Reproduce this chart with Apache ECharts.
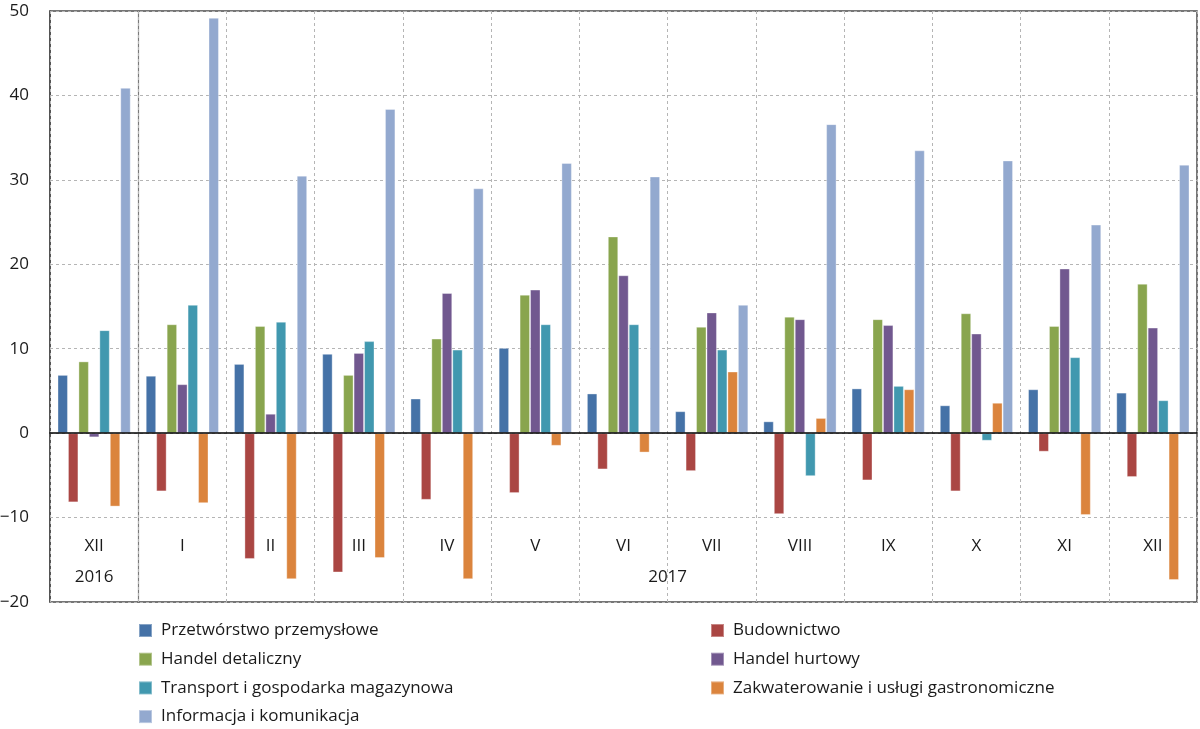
<!DOCTYPE html>
<html>
<head>
<meta charset="utf-8">
<script src="https://cdn.jsdelivr.net/npm/echarts@6/dist/echarts.min.js"></script>
<style>
  html, body { margin: 0; padding: 0; background: #fff; }
  #chart { width: 1200px; height: 729px; }
</style>
</head>
<body>
<div id="chart"></div>
<script>
// ---- data ----
const categories = ['XII', 'I', 'II', 'III', 'IV', 'V', 'VI', 'VII', 'VIII', 'IX', 'X', 'XI', 'XII'];
const yearOfCategory = ['2016', '2017', '2017', '2017', '2017', '2017', '2017', '2017', '2017', '2017', '2017', '2017', '2017'];

const seriesNames = [
  'Przetwórstwo przemysłowe',
  'Budownictwo',
  'Handel detaliczny',
  'Handel hurtowy',
  'Transport i gospodarka magazynowa',
  'Zakwaterowanie i usługi gastronomiczne',
  'Informacja i komunikacja'
];

const przetworstwo   = [6.9, 6.8, 8.2, 9.4, 4.1, 10.1, 4.7, 2.6, 1.4, 5.3, 3.3, 5.2, 4.8];
const budownictwo    = [-8.2, -6.9, -14.9, -16.5, -7.9, -7.1, -4.3, -4.5, -9.6, -5.6, -6.9, -2.2, -5.2];
const detaliczny     = [8.5, 12.9, 12.7, 6.9, 11.2, 16.4, 23.3, 12.6, 13.8, 13.5, 14.2, 12.7, 17.7];
const hurtowy        = [-0.5, 5.8, 2.3, 9.5, 16.6, 17.0, 18.7, 14.3, 13.5, 12.8, 11.8, 19.5, 12.5];
const transport      = [12.2, 15.2, 13.2, 10.9, 9.9, 12.9, 12.9, 9.9, -5.1, 5.6, -0.9, 9.0, 3.9];
const zakwaterowanie = [-8.7, -8.3, -17.3, -14.8, -17.3, -1.5, -2.3, 7.3, 1.8, 5.2, 3.6, -9.7, -17.4];
const informacja     = [40.9, 49.2, 30.5, 38.4, 29.0, 32.0, 30.4, 15.2, 36.6, 33.5, 32.3, 24.7, 31.8];

const seriesValues = [przetworstwo, budownictwo, detaliczny, hurtowy, transport, zakwaterowanie, informacja];
const seriesColors = ['#4572A7', '#AA4643', '#89A54E', '#71588F', '#4198AF', '#DB843D', '#93A9CF'];

const yMin = -20, yMax = 50, yStep = 10;

// ---- derived: year label centres and year boundaries ----
const yearCenters = [];
const yearLabelAt = {};
(function () {
  const groups = {};
  const order = [];
  yearOfCategory.forEach((y, i) => {
    if (!groups[y]) { groups[y] = []; order.push(y); }
    groups[y].push(i + 0.5);
  });
  order.forEach(y => {
    const arr = groups[y];
    const c = (arr[0] + arr[arr.length - 1]) / 2;
    yearCenters.push(c);
    yearLabelAt[c.toFixed(2)] = y;
  });
})();
const boundaryColors = [];
for (let i = 0; i <= categories.length; i++) {
  const isYearBoundary = i > 0 && i < categories.length && yearOfCategory[i] !== yearOfCategory[i - 1];
  boundaryColors.push(isYearBoundary ? '#7a7a7a' : 'rgba(0,0,0,0)');
}

const FONT = 'Open Sans';
const TXT = '#1a1a1a';

const chart = echarts.init(document.getElementById('chart'), null, { renderer: 'canvas' });

const series = seriesNames.map((name, k) => ({
  name: name,
  type: 'bar',
  xAxisIndex: 0,
  yAxisIndex: 0,
  data: seriesValues[k],
  barGap: '0%',
  barCategoryGap: '17%',
  itemStyle: { color: seriesColors[k], borderColor: 'rgba(255,255,255,0.35)', borderWidth: 1 },
  emphasis: { disabled: true },
  animation: false
}));

const legendText = { fontFamily: FONT, fontSize: 17, color: TXT, lineHeight: 17, padding: [0, 0, 0, 4] };

chart.setOption({
  animation: false,
  grid: {
    left: 50, right: 3, top: 11, bottom: 127,
    outerBoundsMode: 'none', containLabel: false,
    show: true, borderColor: '#4a4a4a', borderWidth: 1.5, backgroundColor: 'transparent'
  },
  legend: [
    {
      data: [seriesNames[0], seriesNames[2], seriesNames[4], seriesNames[6]],
      orient: 'vertical', left: 138, top: 622, padding: 0,
      itemWidth: 13, itemHeight: 13, itemGap: 11.7, icon: 'rect',
      textStyle: legendText, selectedMode: false
    },
    {
      data: [seriesNames[1], seriesNames[3], seriesNames[5]],
      orient: 'vertical', left: 710, top: 622, padding: 0,
      itemWidth: 13, itemHeight: 13, itemGap: 11.7, icon: 'rect',
      textStyle: legendText, selectedMode: false
    }
  ],
  xAxis: [
    {
      // bar axis: zero line only
      type: 'category',
      position: 'bottom',
      data: categories,
      axisLine: { show: true, onZero: true, lineStyle: { color: '#000', width: 1.5 } },
      axisTick: { show: false },
      axisLabel: { show: false },
      splitLine: { show: true, lineStyle: { color: '#b5b5b5', type: [3, 3], width: 1 } },
      z: 5
    },
    {
      // year labels and year separator
      type: 'value',
      position: 'bottom',
      min: 0, max: categories.length, interval: 1,
      axisLine: { show: false, onZero: false },
      axisTick: { show: false },
      axisLabel: {
        show: true, inside: true, margin: 16,
        customValues: yearCenters,
        formatter: v => yearLabelAt[Number(v).toFixed(2)] || '',
        fontFamily: FONT, fontSize: 17, color: TXT
      },
      splitLine: { show: true, lineStyle: { color: boundaryColors, width: 1.2, type: 'solid' } }
    },
    {
      // month labels inside the plot
      type: 'category',
      position: 'bottom',
      data: categories,
      axisLine: { show: false, onZero: false },
      axisTick: { show: false },
      axisLabel: { show: true, inside: true, margin: 47, interval: 0, fontFamily: FONT, fontSize: 17, color: TXT },
      splitLine: { show: false }
    }
  ],
  yAxis: {
    type: 'value',
    min: yMin, max: yMax, interval: yStep,
    axisLine: { show: true, lineStyle: { color: '#4a4a4a', width: 1.5 } },
    axisTick: { show: false },
    axisLabel: {
      margin: 21, fontFamily: FONT, fontSize: 17, color: TXT,
      formatter: v => (v < 0 ? '\u2212' + Math.abs(v) : String(v))
    },
    splitLine: { show: true, lineStyle: { color: '#b5b5b5', type: [3, 3], width: 1 } }
  },
  series: series
});
</script>
</body>
</html>
